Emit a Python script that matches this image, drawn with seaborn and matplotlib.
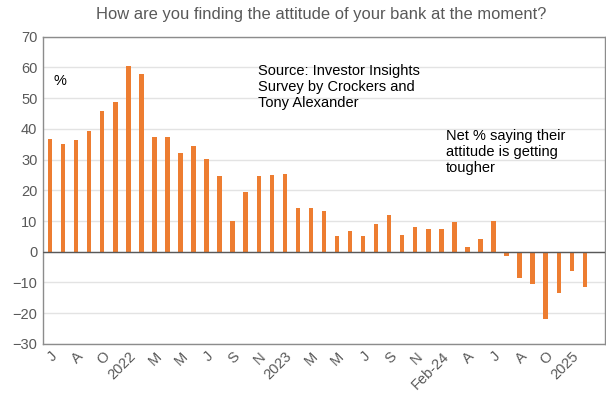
import matplotlib
matplotlib.use("Agg")
import matplotlib.pyplot as plt
import seaborn as sns
import pandas as pd

values = [36.6, 35.0, 36.4, 39.4, 45.9, 48.8, 60.4, 57.9, 37.4, 37.2,
          32.1, 34.5, 30.3, 24.6, 10.0, 19.3, 24.8, 25.1, 25.4, 14.2,
          14.4, 13.3, 5.0, 6.9, 5.0, 8.9, 12.1, 5.6, 8.2, 7.5,
          7.5, 9.7, 1.7, 4.3, 10.1, -1.5, -8.4, -10.5, -22.0, -13.5,
          -6.3, -11.6]
periods = list(range(len(values)))
tick_labels = ["J", "A", "O", "2022", "M", "M", "J", "S", "N", "2023", "M",
               "M", "J", "S", "N", "Feb-24", "A", "J", "A", "O", "2025"]

sns.set_theme(style="white")
plt.rcParams['font.family'] = ['Liberation Sans', 'DejaVu Sans']

fig = plt.figure(figsize=(6.06, 3.94), dpi=100)
ax = fig.add_axes([0.071, 0.127, 0.927, 0.780])

df = pd.DataFrame({"period": periods, "value": values})
sns.barplot(data=df, x="period", y="value", color="#ED7D31", saturation=1,
            width=0.34, linewidth=0, ax=ax, zorder=3)

ax.set_ylim(-30, 70)
ax.set_yticks(range(-30, 71, 10))
ax.set_xlim(-0.54, 42.53)
ax.yaxis.grid(True, color="#E3E3E3", linewidth=1, zorder=0)
ax.axhline(0, color="#595959", linewidth=1, zorder=4)
ax.set_xticks(periods[::2])
ax.set_xticklabels(tick_labels, rotation=45, ha="right", rotation_mode="anchor")
ax.tick_params(axis="x", colors="#595959", labelsize=10.5, length=0, pad=4)
ax.tick_params(axis="y", colors="#595959", labelsize=10.5, length=0, pad=4)
ax.set_xlabel("")
ax.set_ylabel("")
for s in ax.spines.values():
    s.set_color("#8C8C8C")
    s.set_linewidth(1)

fig.text(0.53, 0.962, "How are you finding the attitude of your bank at the moment?",
         ha="center", va="center", fontsize=11.9, color="#595959")
ax.text(0.018, 0.855, "%", transform=ax.transAxes, fontsize=10.5, color="black",
        va="center")
ax.text(0.383, 0.912, "Source: Investor Insights\nSurvey by Crockers and\nTony Alexander",
        transform=ax.transAxes, fontsize=10.5, color="black", va="top",
        linespacing=1.2)
ax.text(0.717, 0.70, "Net % saying their\nattitude is getting\ntougher",
        transform=ax.transAxes, fontsize=10.5, color="black", va="top",
        linespacing=1.2)

fig.savefig("out.png", dpi=100)
